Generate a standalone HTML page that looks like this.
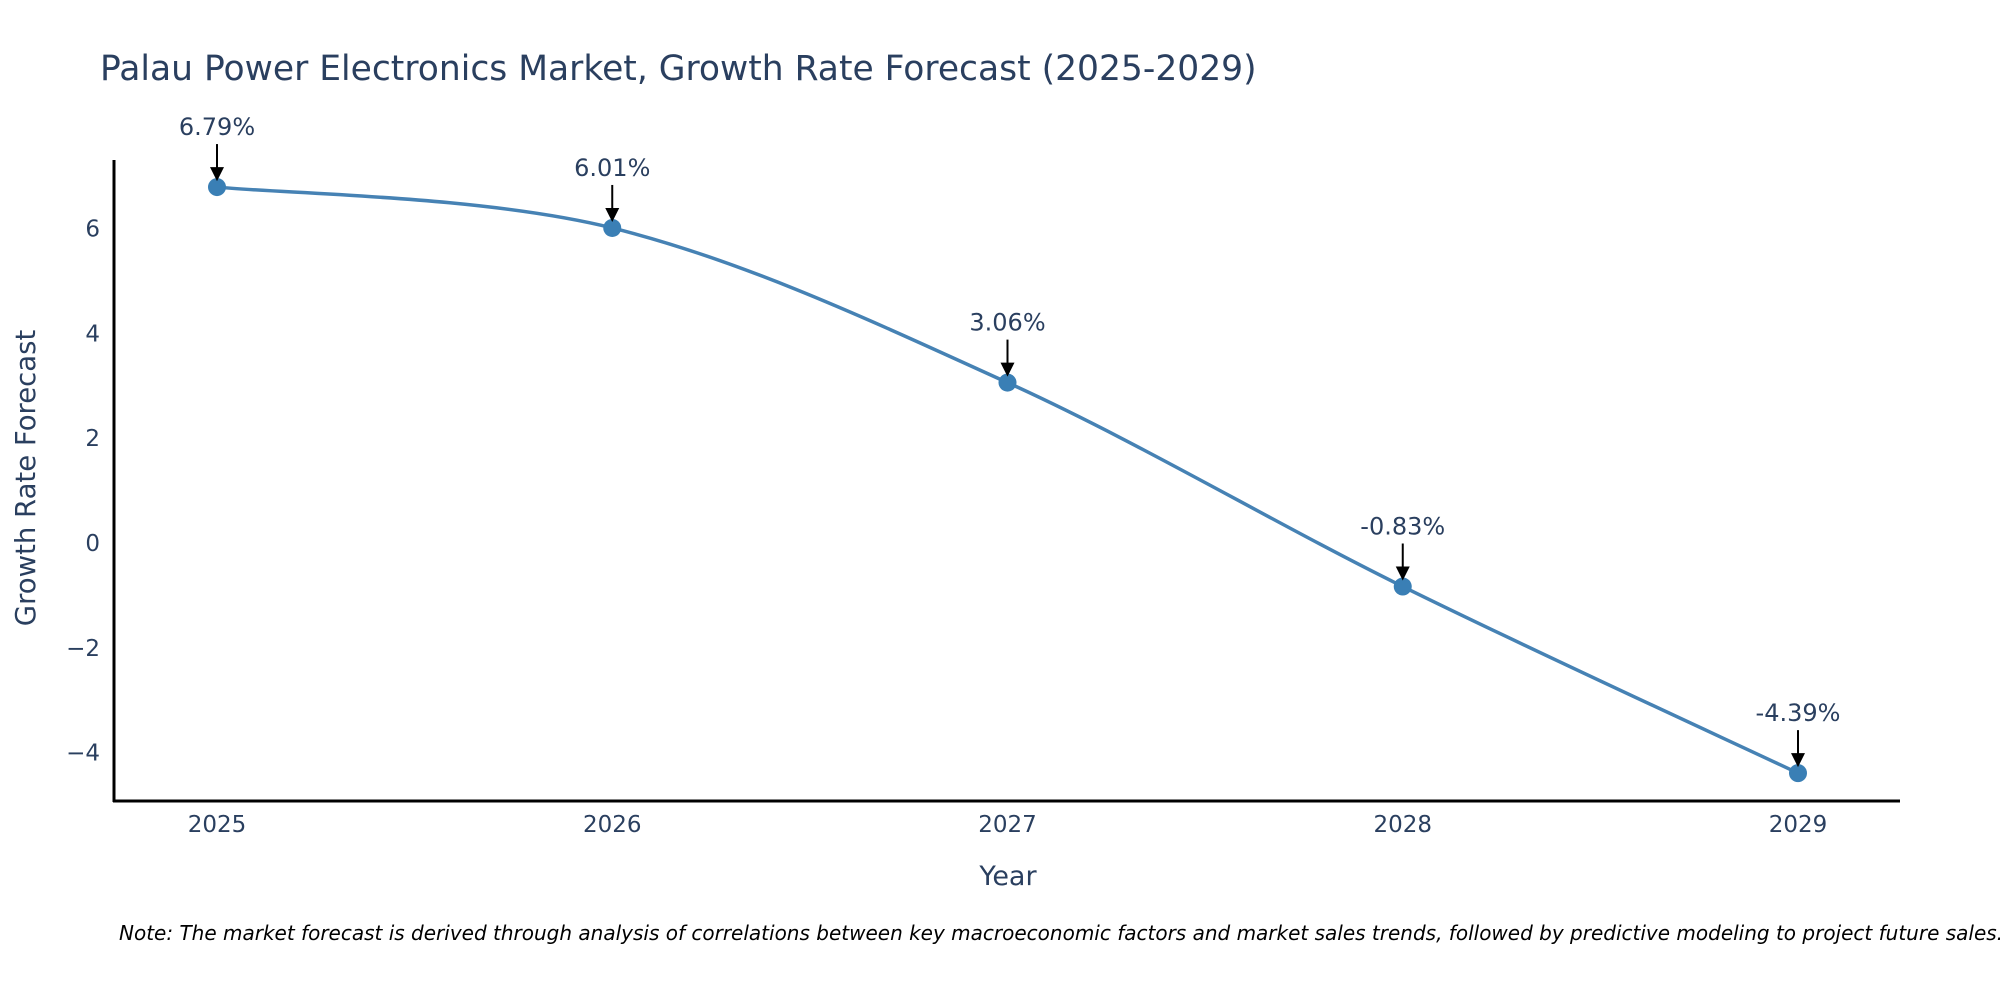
<!DOCTYPE html>
<html><head><meta charset="utf-8"><style>
body{margin:0;background:#fff;}
svg text{font-family:"DejaVu Sans","Liberation Sans",sans-serif;fill:#2a3f5f;}
</style></head><body>
<svg id="chart" width="2000" height="1000" xmlns="http://www.w3.org/2000/svg">
<text x="100" y="80" font-size="34.5">Palau Power Electronics Market, Growth Rate Forecast (2025-2029)</text>
<g id="yticks"></g><g id="xticks"></g>
<line x1="114" y1="160" x2="114" y2="802" stroke="#000" stroke-width="3"/>
<line x1="113" y1="801" x2="1900" y2="801" stroke="#000" stroke-width="3"/>
<path id="line" fill="none" stroke="#4682b4" stroke-width="3.5"/>
<g id="points"></g><g id="annots"></g>
<text x="1008" y="885" font-size="27" text-anchor="middle">Year</text>
<text transform="translate(35,478) rotate(-90)" font-size="27.5" text-anchor="middle">Growth Rate Forecast</text>
<text x="119" y="940" font-size="20" font-style="italic" style="fill:#000">Note: The market forecast is derived through analysis of correlations between key macroeconomic factors and market sales trends, followed by predictive modeling to project future sales.</text>
</svg>
<script>
const years=[2025,2026,2027,2028,2029];
const values=[6.79,6.01,3.06,-0.83,-4.39];
const labels=["6.79%","6.01%","3.06%","-0.83%","-4.39%"];
const yTicks=[-4,-2,0,2,4,6];
const yTickLabels=["\u22124","\u22122","0","2","4","6"];
const NS="http://www.w3.org/2000/svg";
const X=v=>217+(v-2025)*395.25;
const Y=v=>543-v*52.42;
function mk(tag,attrs,parent){const e=document.createElementNS(NS,tag);for(const k in attrs)e.setAttribute(k,attrs[k]);document.getElementById(parent).appendChild(e);return e;}
yTicks.forEach((t,i)=>{const e=mk('text',{x:100,y:Y(t)+8,'font-size':23,'text-anchor':'end'},'yticks');e.textContent=yTickLabels[i];

});
years.forEach(y=>{const e=mk('text',{x:X(y),y:832,'font-size':23,'text-anchor':'middle'},'xticks');e.textContent=y;

});
const pts=years.map((y,i)=>[X(y),Y(values[i])]);
let d=`M${pts[0][0]},${pts[0][1]}`;const t=0.5;
for(let i=0;i<pts.length-1;i++){const p0=pts[Math.max(i-1,0)],p1=pts[i],p2=pts[i+1],p3=pts[Math.min(i+2,pts.length-1)];
const c1=[p1[0]+(p2[0]-p0[0])*t/3,p1[1]+(p2[1]-p0[1])*t/3],c2=[p2[0]-(p3[0]-p1[0])*t/3,p2[1]-(p3[1]-p1[1])*t/3];
d+=` C${c1[0]},${c1[1]} ${c2[0]},${c2[1]} ${p2[0]},${p2[1]}`;}
document.getElementById('line').setAttribute('d',d);
pts.forEach((p,i)=>{const c=mk('circle',{cx:p[0],cy:p[1],r:9,fill:'#3a7fb5'},'points');


const l=mk('line',{x1:p[0],y1:p[1]-43,x2:p[0],y2:p[1]-18,stroke:'#000','stroke-width':2},'annots');


const a=mk('polygon',{points:`${p[0]-7},${p[1]-20} ${p[0]+7},${p[1]-20} ${p[0]},${p[1]-6}`,fill:'#000'},'annots');


const tx=mk('text',{x:p[0],y:p[1]-52,'font-size':24,'text-anchor':'middle'},'annots');tx.textContent=labels[i];

});
</script>
</body></html>
